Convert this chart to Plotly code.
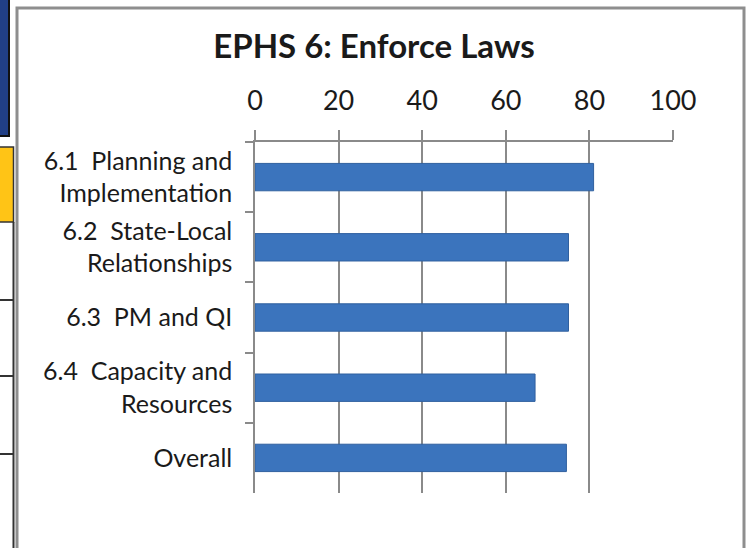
import plotly.graph_objects as go

categories = ["6.1  Planning and<br>Implementation", "6.2  State-Local<br>Relationships",
              "6.3  PM and QI", "6.4  Capacity and<br>Resources", "Overall"]
scores = [81, 75, 75, 67, 74.5]
x_ticks = [0, 20, 40, 60, 80, 100]
title_text = "<b>EPHS 6: Enforce Laws</b>"

W, H = 748, 548
L, R, T, B = 255, 75, 142, 55
PW, PH = W - L - R, H - T - B

def px(x):
    return (x - L) / PW

def py(y):
    return 1 - (y - T) / PH

fig = go.Figure()
fig.add_trace(go.Bar(
    x=scores, y=categories, orientation="h", width=0.39,
    marker=dict(color="#3b74bd", line=dict(color="#30609f", width=1)),
    hoverinfo="x+y",
))

shapes = []
# chart frame
shapes.append(dict(type="rect", xref="paper", yref="paper", x0=px(17), x1=px(744),
                   y0=py(580), y1=py(8), line=dict(color="#8e8e8e", width=3),
                   fillcolor="rgba(0,0,0,0)", layer="below"))
# left decorative table fragments
shapes.append(dict(type="rect", xref="paper", yref="paper", x0=px(-5), x1=px(9),
                   y0=py(136), y1=py(-5), line=dict(color="#111111", width=2),
                   fillcolor="#213f86", layer="below"))
shapes.append(dict(type="rect", xref="paper", yref="paper", x0=px(-5), x1=px(13.5),
                   y0=py(222), y1=py(147), line=dict(color="#333333", width=1.5),
                   fillcolor="#ffc416", layer="below"))
shapes.append(dict(type="line", xref="paper", yref="paper", x0=px(13.5), x1=px(13.5),
                   y0=py(222), y1=py(560), line=dict(color="#333333", width=2)))
for yy in [300, 376, 454]:
    shapes.append(dict(type="line", xref="paper", yref="paper", x0=px(-5), x1=px(13.5),
                       y0=py(yy), y1=py(yy), line=dict(color="#333333", width=2)))

fig.update_layout(
    width=W, height=H,
    margin=dict(l=L, r=R, t=T, b=B, pad=0),
    paper_bgcolor="white", plot_bgcolor="white",
    showlegend=False,
    title=dict(text=title_text, x=0.5, xref="container", xanchor="center",
               y=1 - 46 / H, yref="container", yanchor="middle",
               font=dict(family="Lato", size=33, color="#1a1a1a")),
    xaxis=dict(range=[0, 100], side="top", tickvals=x_ticks, ticktext=[str(v) for v in x_ticks],
               showgrid=True, gridcolor="#8a8a8a", gridwidth=1.5,
               showline=True, linecolor="#8a8a8a", linewidth=1.5,
               ticks="outside", ticklen=10, tickcolor="#8a8a8a", tickwidth=1.5,
               ticklabelstandoff=9, zeroline=False,
               tickfont=dict(family="Lato", size=27, color="#1a1a1a")),
    yaxis=dict(autorange="reversed", showline=True, linecolor="#8a8a8a", linewidth=1.5,
               ticks="outside", ticklen=8, tickcolor="#8a8a8a", tickwidth=1.5,
               tickson="boundaries", showgrid=False, ticklabelstandoff=16,
               tickfont=dict(family="Lato", size=25, color="#1a1a1a")),
    shapes=shapes,
    bargap=0.6,
)

fig.write_html("out.html", config={"displayModeBar": False},
               post_script="document.body.style.margin='0';document.body.style.padding='0';"
                           "document.documentElement.style.overflow='hidden';")
